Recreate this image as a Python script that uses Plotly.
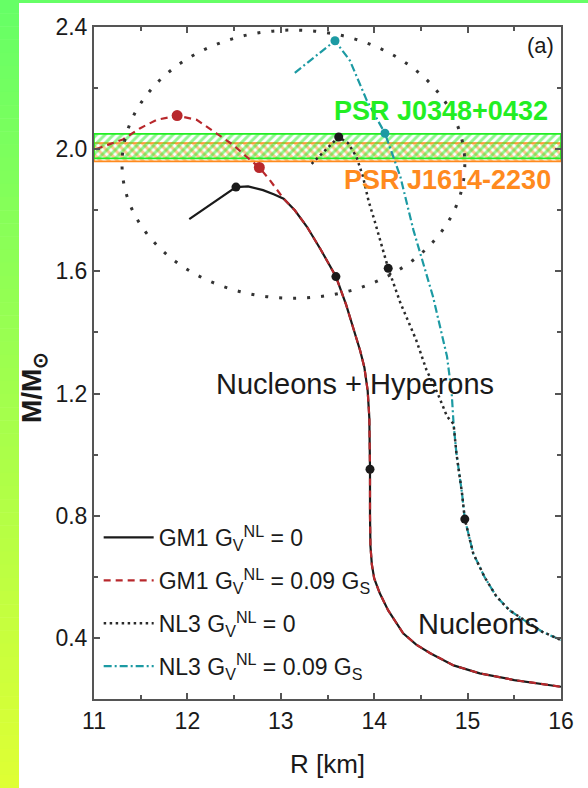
import plotly.graph_objects as go

# ---- mass-radius data (R in km, M in solar masses) ----
# GM1: nucleon-only branch, shared by both vector couplings
gm1_nuc_r = [13.03, 13.15, 13.28, 13.43, 13.59, 13.70, 13.78, 13.85, 13.895, 13.93,
             13.948, 13.955, 13.955, 13.955, 13.96, 13.975, 14.00, 14.06, 14.15, 14.31,
             14.45, 14.60, 14.85, 15.13, 15.50, 16.0]
gm1_nuc_m = [1.838, 1.80, 1.746, 1.67, 1.583, 1.49, 1.41, 1.34, 1.285, 1.21,
             1.12, 1.00, 0.952, 0.80, 0.70, 0.64, 0.595, 0.546, 0.49, 0.415,
             0.378, 0.35, 0.31, 0.284, 0.262, 0.24]
# GM1 with hyperons, G_V^NL = 0
gm1_hyp0_r = [12.02, 12.52, 12.65, 12.81, 12.93]
gm1_hyp0_m = [1.771, 1.876, 1.878, 1.866, 1.852]
# GM1 with hyperons, G_V^NL = 0.09 G_S
gm1_hyp9_r = [11.02, 11.31, 11.49, 11.67, 11.89, 12.10, 12.31, 12.49, 12.63, 12.77, 12.88, 12.97]
gm1_hyp9_m = [2.0, 2.032, 2.068, 2.096, 2.11, 2.096, 2.052, 2.014, 1.976, 1.94, 1.90, 1.865]

# NL3: nucleon-only branch, shared by both vector couplings
nl3_nuc_r = [14.85, 14.88, 14.94, 14.97, 15.06, 15.18, 15.31, 15.45, 15.60, 15.80, 16.0]
nl3_nuc_m = [1.10, 1.005, 0.874, 0.789, 0.677, 0.60, 0.535, 0.49, 0.459, 0.42, 0.393]
# NL3 with hyperons, G_V^NL = 0
nl3_hyp0_r = [13.33, 13.62, 13.72, 13.81, 13.88, 13.94, 14.00, 14.06, 14.15, 14.28,
              14.45, 14.56, 14.68, 14.78]
nl3_hyp0_m = [1.952, 2.04, 2.02, 1.975, 1.91, 1.83, 1.77, 1.703, 1.61, 1.497,
              1.375, 1.277, 1.20, 1.125]
# NL3 with hyperons, G_V^NL = 0.09 G_S
nl3_hyp9_r = [13.15, 13.58, 13.74, 13.92, 14.115, 14.28, 14.42, 14.63, 14.78, 14.83]
nl3_hyp9_m = [2.25, 2.355, 2.29, 2.16, 2.052, 1.91, 1.735, 1.517, 1.321, 1.20]

# marked points on each sequence
gm1_0_pts_r, gm1_0_pts_m = [12.52, 13.59, 13.955], [1.876, 1.583, 0.952]
gm1_9_pts_r, gm1_9_pts_m = [11.89, 12.77], [2.11, 1.94]
nl3_0_pts_r, nl3_0_pts_m = [13.62, 14.15, 14.97], [2.04, 1.61, 0.789]
nl3_9_pts_r, nl3_9_pts_m = [13.58, 14.115], [2.355, 2.052]

# observed pulsar mass bands (lower, upper)
psr_j0348_band = [1.97, 2.05]
psr_j1614_band = [1.96, 2.02]

# dotted ellipse highlighting the maximum-mass region (R range, M range)
circle_r = [11.3, 14.97]
circle_m = [1.512, 2.39]

x_ticks = [11, 12, 13, 14, 15, 16]
y_ticks = [0.4, 0.8, 1.2, 1.6, 2.0, 2.4]

FONT = "Liberation Sans, Arial, sans-serif"
BLACK = "#1a1a1a"
RED = "#b8282c"
TEAL = "#1c9aa3"
GREEN = "#22ee22"
ORANGE = "#ff8a1e"

fig = go.Figure()

# pulsar bands (cross-hatched)
for band, color, shape in [(psr_j1614_band, ORANGE, "\\"), (psr_j0348_band, GREEN, "/")]:
    lo, hi = band
    fig.add_trace(go.Scatter(
        x=[11, 16, 16, 11, 11], y=[lo, lo, hi, hi, lo],
        mode="lines", fill="toself",
        fillcolor="rgba(0,0,0,0)",
        fillpattern=dict(shape=shape, fgcolor=color, bgcolor="rgba(255,255,255,0)",
                         size=6, solidity=0.5),
        line=dict(color=color, width=1.6),
        showlegend=False, hoverinfo="skip"))

lw = 2.2
fig.add_trace(go.Scatter(
    x=gm1_hyp0_r + gm1_nuc_r, y=gm1_hyp0_m + gm1_nuc_m, mode="lines",
    line=dict(color=BLACK, width=lw), name="GM1 G<sub>V</sub><sup>NL</sup> = 0",
    legendgroup="a", legendrank=1))
fig.add_trace(go.Scatter(
    x=gm1_hyp9_r + gm1_nuc_r, y=gm1_hyp9_m + gm1_nuc_m, mode="lines",
    line=dict(color=RED, width=lw, dash="7px,5px"),
    name="GM1 G<sub>V</sub><sup>NL</sup> = 0.09 G<sub>S</sub>", legendgroup="b",
    legendrank=2))
fig.add_trace(go.Scatter(
    x=nl3_hyp9_r + nl3_nuc_r, y=nl3_hyp9_m + nl3_nuc_m, mode="lines",
    line=dict(color=TEAL, width=lw, dash="8px,3px,2px,3px"),
    name="NL3 G<sub>V</sub><sup>NL</sup> = 0.09 G<sub>S</sub>", legendgroup="d",
    legendrank=4))
fig.add_trace(go.Scatter(
    x=nl3_hyp0_r + nl3_nuc_r, y=nl3_hyp0_m + nl3_nuc_m, mode="lines",
    line=dict(color="#2a2a2a", width=2.5, dash="2.5px,3.5px"),
    name="NL3 G<sub>V</sub><sup>NL</sup> = 0", legendgroup="c", legendrank=3))

# marked points
for xs, ys, col, size in [(gm1_0_pts_r, gm1_0_pts_m, BLACK, 9),
                          (gm1_9_pts_r, gm1_9_pts_m, RED, 11),
                          (nl3_0_pts_r, nl3_0_pts_m, BLACK, 9),
                          (nl3_9_pts_r, nl3_9_pts_m, TEAL, 9)]:
    fig.add_trace(go.Scatter(x=xs, y=ys, mode="markers",
                             marker=dict(color=col, size=size),
                             showlegend=False, hoverinfo="skip"))

shapes = []
# dotted ellipse
shapes.append(dict(type="circle", xref="x", yref="y",
                   x0=circle_r[0], x1=circle_r[1], y0=circle_m[0], y1=circle_m[1],
                   line=dict(color="#333333", width=3, dash="3px,11px"), layer="above"))

# page decoration: green-to-yellow strip on the left and along the top
W, H = 588, 788
L, R, T, B = 94, 27, 27, 89
pw, ph = W - L - R, H - T - B


def px_to_paper_x(px):
    return (px - L) / pw


def px_to_paper_y(py):
    return (H - B - py) / ph


n = 60
c0, c1 = (102, 255, 102), (222, 255, 52)
for i in range(n):
    t = i / (n - 1)
    col = "rgb(%d,%d,%d)" % tuple(round(a + (b - a) * t) for a, b in zip(c0, c1))
    y_top = H * i / n
    y_bot = H * (i + 1) / n + 0.5
    shapes.append(dict(type="rect", xref="paper", yref="paper",
                       x0=px_to_paper_x(0), x1=px_to_paper_x(19),
                       y0=px_to_paper_y(y_bot), y1=px_to_paper_y(y_top),
                       fillcolor=col, line=dict(width=0), layer="below"))
shapes.append(dict(type="rect", xref="paper", yref="paper",
                   x0=px_to_paper_x(0), x1=px_to_paper_x(W),
                   y0=px_to_paper_y(3), y1=px_to_paper_y(0),
                   fillcolor="rgb(102,255,102)", line=dict(width=0), layer="below"))

annotations = [
    dict(x=13.545, y=2.125, xref="x", yref="y", xanchor="left", yanchor="middle",
         text="<b>PSR J0348+0432</b>", showarrow=False,
         font=dict(family=FONT, size=27, color=GREEN)),
    dict(x=13.65, y=1.898, xref="x", yref="y", xanchor="left", yanchor="middle",
         text="<b>PSR J1614-2230</b>", showarrow=False,
         font=dict(family=FONT, size=27, color=ORANGE)),
    dict(x=15.30, y=1.231, xref="x", yref="y", xanchor="right", yanchor="middle",
         text="Nucleons + Hyperons", showarrow=False,
         font=dict(family=FONT, size=29, color=BLACK)),
    dict(x=15.12, y=0.446, xref="x", yref="y", xanchor="center", yanchor="middle",
         text="Nucleons", showarrow=False,
         font=dict(family=FONT, size=29, color=BLACK)),
    dict(x=px_to_paper_x(556), y=px_to_paper_y(31), xref="paper", yref="paper",
         xanchor="right", yanchor="top",
         text="(a)", showarrow=False, font=dict(family=FONT, size=22, color=BLACK)),
    dict(x=px_to_paper_x(33), y=px_to_paper_y(388), xref="paper", yref="paper",
         xanchor="center", yanchor="middle", textangle=-90,
         text="<b>M/M<sub>⊙</sub></b>", showarrow=False,
         font=dict(family=FONT, size=28, color=BLACK)),
]

axis_common = dict(
    showline=True, linecolor="#555555", linewidth=2, mirror="allticks",
    ticks="inside", ticklen=6, tickwidth=1.5, tickcolor="#555555",
    showgrid=False, zeroline=False,
    tickfont=dict(family=FONT, size=23, color=BLACK),
)

fig.update_layout(
    width=W, height=H,
    margin=dict(l=L, r=R, t=T, b=B),
    paper_bgcolor="white", plot_bgcolor="white",
    xaxis=dict(range=[11, 16], tickvals=x_ticks, ticktext=[str(v) for v in x_ticks],
               minor=dict(dtick=0.5, ticks="inside", ticklen=4, tickcolor="#555555"),
               title=dict(text="R [km]", font=dict(family=FONT, size=26, color=BLACK),
                          standoff=22),
               **axis_common),
    yaxis=dict(range=[0.2, 2.4], tickvals=y_ticks, ticktext=["%.1f" % v for v in y_ticks],
               minor=dict(dtick=0.2, ticks="inside", ticklen=4, tickcolor="#555555"),
               **axis_common),
    legend=dict(x=0.01, y=0.2724, xanchor="left", yanchor="top",
                bgcolor="rgba(0,0,0,0)", tracegroupgap=10,
                font=dict(family=FONT, size=23, color=BLACK),
                traceorder="grouped", itemwidth=50),
    shapes=shapes,
    annotations=annotations,
    showlegend=True,
)

fig.write_html("out.html")
